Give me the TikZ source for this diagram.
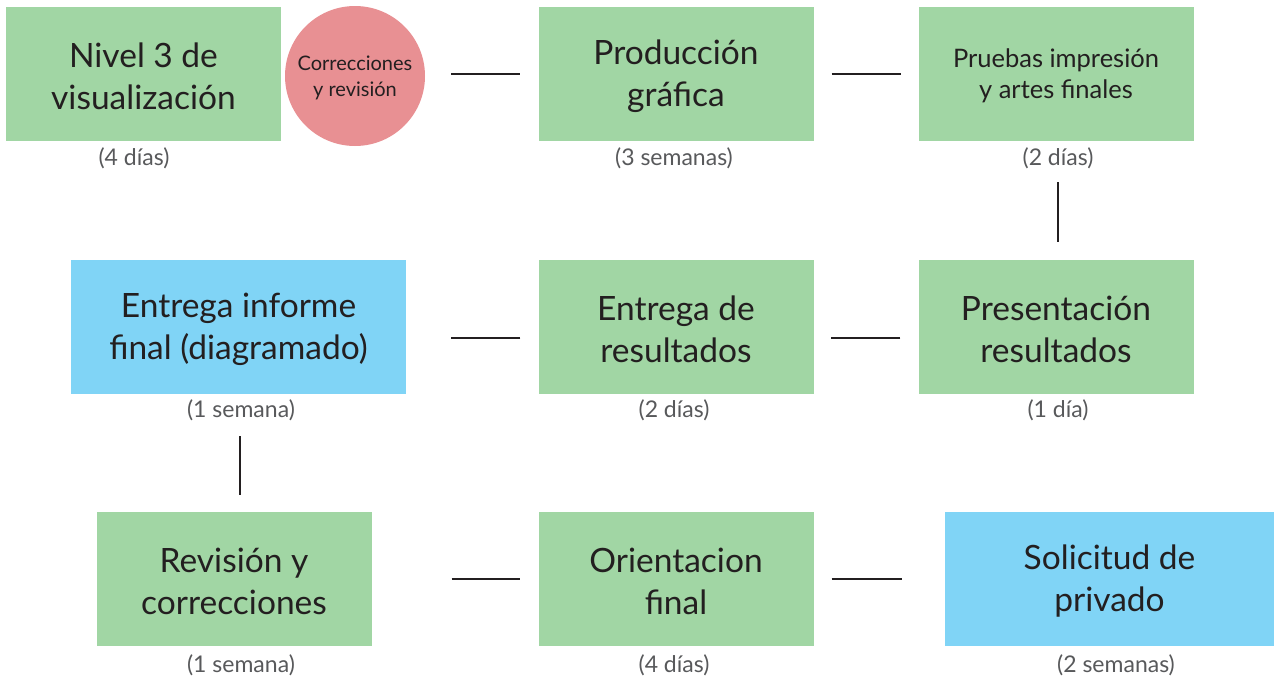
\documentclass[tikz,border=0pt]{standalone}
\usepackage{fontspec}
\setmainfont{Lato}
\definecolor{boxgreen}{HTML}{A1D6A4}
\definecolor{boxblue}{HTML}{80D4F6}
\definecolor{boxpink}{HTML}{E89093}
\definecolor{ink}{HTML}{231F20}
\definecolor{labelgray}{HTML}{58595B}
\newcommand\tpush{\rule{0pt}{0.88em}}
\newcommand\cpush{\rule{0pt}{0.95em}}
\begin{document}
\begin{tikzpicture}[x=1pt,y=-1pt,
  box/.style={fill=boxgreen, draw=none, minimum width=275pt, minimum height=134pt, inner sep=0pt, align=center, text=ink, font=\fontsize{33.5}{42}\selectfont},
  bluebox/.style={box, fill=boxblue},
  smallbox/.style={box, font=\fontsize{25.5}{31}\selectfont},
  circ/.style={circle, fill=boxpink, draw=none, minimum size=140pt, inner sep=0pt, align=center, text=ink, font=\fontsize{20}{26}\selectfont},
  dur/.style={text=labelgray, inner sep=0pt, font=\fontsize{23}{26}\selectfont},
  conn/.style={draw=ink, line width=2.4pt}]
\useasboundingbox (0,0) rectangle (1275,680);
% row 1
\node[box] (n3) at (143.5,74) {\tpush Nivel 3 de\\visualización};
\node[circ] (corr) at (355,76) {\cpush Correcciones\\y revisión};
\node[box] (prod) at (676,74) {\tpush Producción\\gráfica};
\node[smallbox] (prue) at (1056,74) {\tpush Pruebas impresión\\y artes finales};
% row 2
\node[bluebox, minimum width=335pt] (info) at (238.5,327) {\tpush Entrega informe\\final (diagramado)};
\node[box] (entr) at (676,327) {\tpush Entrega de\\resultados};
\node[box] (pres) at (1056,327) {\tpush Presentación\\resultados};
% row 3
\node[box] (revi) at (234,579) {\tpush Revisión y\\correcciones};
\node[box] (orie) at (676,579) {\tpush Orientacion\\final};
\node[bluebox, minimum width=329pt] (soli) at (1109.5,579) {\tpush Solicitud de\\privado};
% durations
\node[dur] (d1) at (134,158) {(4 días)};
\node[dur] (d2) at (674,158) {(3 semanas)};
\node[dur] (d3) at (1058,158) {(2 días)};
\node[dur] (d4) at (241,410) {(1 semana)};
\node[dur] (d5) at (674,410) {(2 días)};
\node[dur] (d6) at (1058,410) {(1 día)};
\node[dur] (d7) at (241,665) {(1 semana)};
\node[dur] (d8) at (674,665) {(4 días)};
\node[dur] (d9) at (1116,665) {(2 semanas)};
% connectors
\draw[conn, shorten <=26pt, shorten >=18pt] ([yshift=2pt]corr.east) -- ([yshift=0pt]prod.west);
\draw[conn, shorten <=18pt, shorten >=17pt] (prod.east) -- (prue.west);
\draw[conn, shorten <=41pt, shorten >=18pt] ([xshift=2pt]prue.south) -- ([xshift=2pt]pres.north);
\draw[conn, shorten <=18pt, shorten >=17pt] ([yshift=-11pt]pres.west) -- ([yshift=-11pt]entr.east);
\draw[conn, shorten <=18pt, shorten >=45pt] ([yshift=-11pt]entr.west) -- ([yshift=-11pt]info.east);
\draw[conn, shorten <=42pt, shorten >=17pt] ([xshift=1.5pt]info.south) -- ([xshift=6pt]revi.north);
\draw[conn, shorten <=80pt, shorten >=18pt] (revi.east) -- (orie.west);
\draw[conn, shorten <=18pt, shorten >=43pt] (orie.east) -- (soli.west);
\end{tikzpicture}
\end{document}
